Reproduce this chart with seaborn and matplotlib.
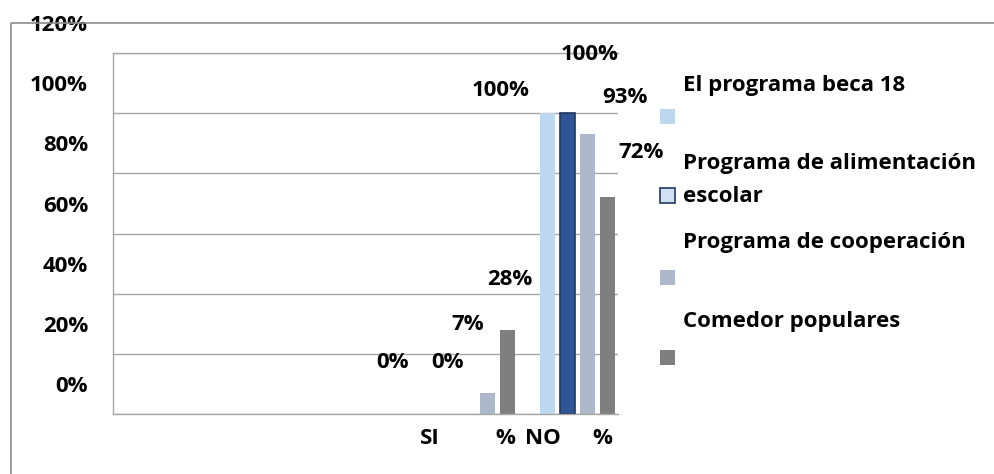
import matplotlib
matplotlib.use("Agg")
import matplotlib.pyplot as plt
import matplotlib.transforms as mtransforms
from matplotlib.patches import Rectangle
from matplotlib.lines import Line2D
import pandas as pd
import seaborn as sns

# datos del grafico
programas = ["El programa beca 18", "Programa de alimentación escolar",
             "Programa de cooperación", "Comedor populares"]
si_pct = [0, 0, 7, 28]
no_pct = [100, 100, 93, 72]
grupos = ["SI %", "NO %"]
etiquetas_x = ["SI", "%", "NO", "%"]
ticks_y = [0, 20, 40, 60, 80, 100, 120]
colores = ["#BDD7EE", "#2F5597", "#ADB9CA", "#7F7F7F"]

dados = pd.DataFrame({
    "grupo": [grupos[0]] * 4 + [grupos[1]] * 4,
    "programa": programas * 2,
    "valor": si_pct + no_pct,
})

sns.set_theme(style="white")
plt.rcParams["font.family"] = ["Open Sans", "DejaVu Sans"]
plt.rcParams["font.weight"] = "bold"
plt.rcParams["text.color"] = "black"
FS = 16

W, H = 994, 474
fig = plt.figure(figsize=(W / 100, H / 100), dpi=100)
ax = fig.add_axes([113 / W, 60 / H, 505 / W, 361 / H])

# tres huecos vacios antes de los grupos, como en el original
orden = ["_a", "_b", "_c"] + grupos
sns.barplot(data=dados, x="grupo", y="valor", hue="programa", order=orden,
            hue_order=programas, palette=colores, saturation=1, width=0.8,
            gap=0.25, linewidth=0, legend=False, ax=ax)

ax.set_xlim(-0.64, 4.41)
ax.set_ylim(0, 120)

# borde de la serie azul oscura
for bar in ax.containers[1]:
    if bar.get_height() > 0:
        bar.set_edgecolor("#203864")
        bar.set_linewidth(1.2)

# etiquetas de datos (desplazadas como en la imagen)
offs = {
    "SI %": [(-55, 51), (-20, 51), (-19, 68), (3, 50)],
    "NO %": [(-46, 23), (23, 59), (38, 37), (34, 45)],
}
for i, cont in enumerate(ax.containers):
    for bar in cont:
        xc = bar.get_x() + bar.get_width() / 2
        h = bar.get_height()
        g = grupos[0] if xc < 3.5 else grupos[1]
        dx, dy = offs[g][i]
        ax.annotate(f"{h:.0f}%", xy=(xc, h), xytext=(dx, dy),
                    textcoords="offset pixels", ha="center", va="center",
                    fontsize=FS, fontweight="bold", color="black",
                    annotation_clip=False)

# ejes
ax.set_yticks(ticks_y)
ax.set_yticklabels([f"{v}%" for v in ticks_y])
ax.tick_params(axis="y", length=0, pad=18, labelsize=FS, labelcolor="black")
desplaz = mtransforms.ScaledTranslation(0, 0.30, fig.dpi_scale_trans)
for lab in ax.get_yticklabels():
    lab.set_transform(lab.get_transform() + desplaz)

ax.set_xticks([2.53, 3.28, 3.66, 4.25])
ax.set_xticklabels(etiquetas_x)
ax.tick_params(axis="x", length=0, pad=10, labelsize=FS, labelcolor="black")
ax.set_xlabel("")
ax.set_ylabel("")

ax.grid(axis="y", color="#A6A6A6", linewidth=1.0)
ax.set_axisbelow(True)
for s in ["left", "top", "bottom"]:
    ax.spines[s].set_color("#A6A6A6")
    ax.spines[s].set_linewidth(1.0)
ax.spines["right"].set_visible(False)

# leyenda dibujada a mano (texto arriba, cuadro abajo)
def fy(ypx):
    return 1 - ypx / H

ley = [(85, 116), (163, 195), (243, 277), (322, 357)]
for i, (ytxt, ymk) in enumerate(ley):
    nombre = programas[i]
    cara = colores[i]
    borde = "none"
    if i == 1:
        primera, segunda = nombre.rsplit(" ", 1)
        fig.text(683 / W, fy(ytxt), primera, ha="left", va="center",
                 fontsize=FS, fontweight="bold")
        fig.text(683 / W, fy(ymk + 2), segunda, ha="left", va="center",
                 fontsize=FS, fontweight="bold")
        cara = "#CFE1F3"
        borde = "#203864"
    else:
        fig.text(683 / W, fy(ytxt), nombre, ha="left", va="center",
                 fontsize=FS, fontweight="bold")
    fig.add_artist(Rectangle((660 / W, fy(ymk + 7.5)), 15 / W, 15 / H,
                             transform=fig.transFigure, facecolor=cara,
                             edgecolor=borde, linewidth=1.2))

# marco exterior parcial
fig.add_artist(Line2D([11 / W, 11 / W, 1], [0, fy(23), fy(23)],
                      transform=fig.transFigure, color="#8C8C8C", linewidth=1.2))

fig.savefig("out.png", dpi=100)
